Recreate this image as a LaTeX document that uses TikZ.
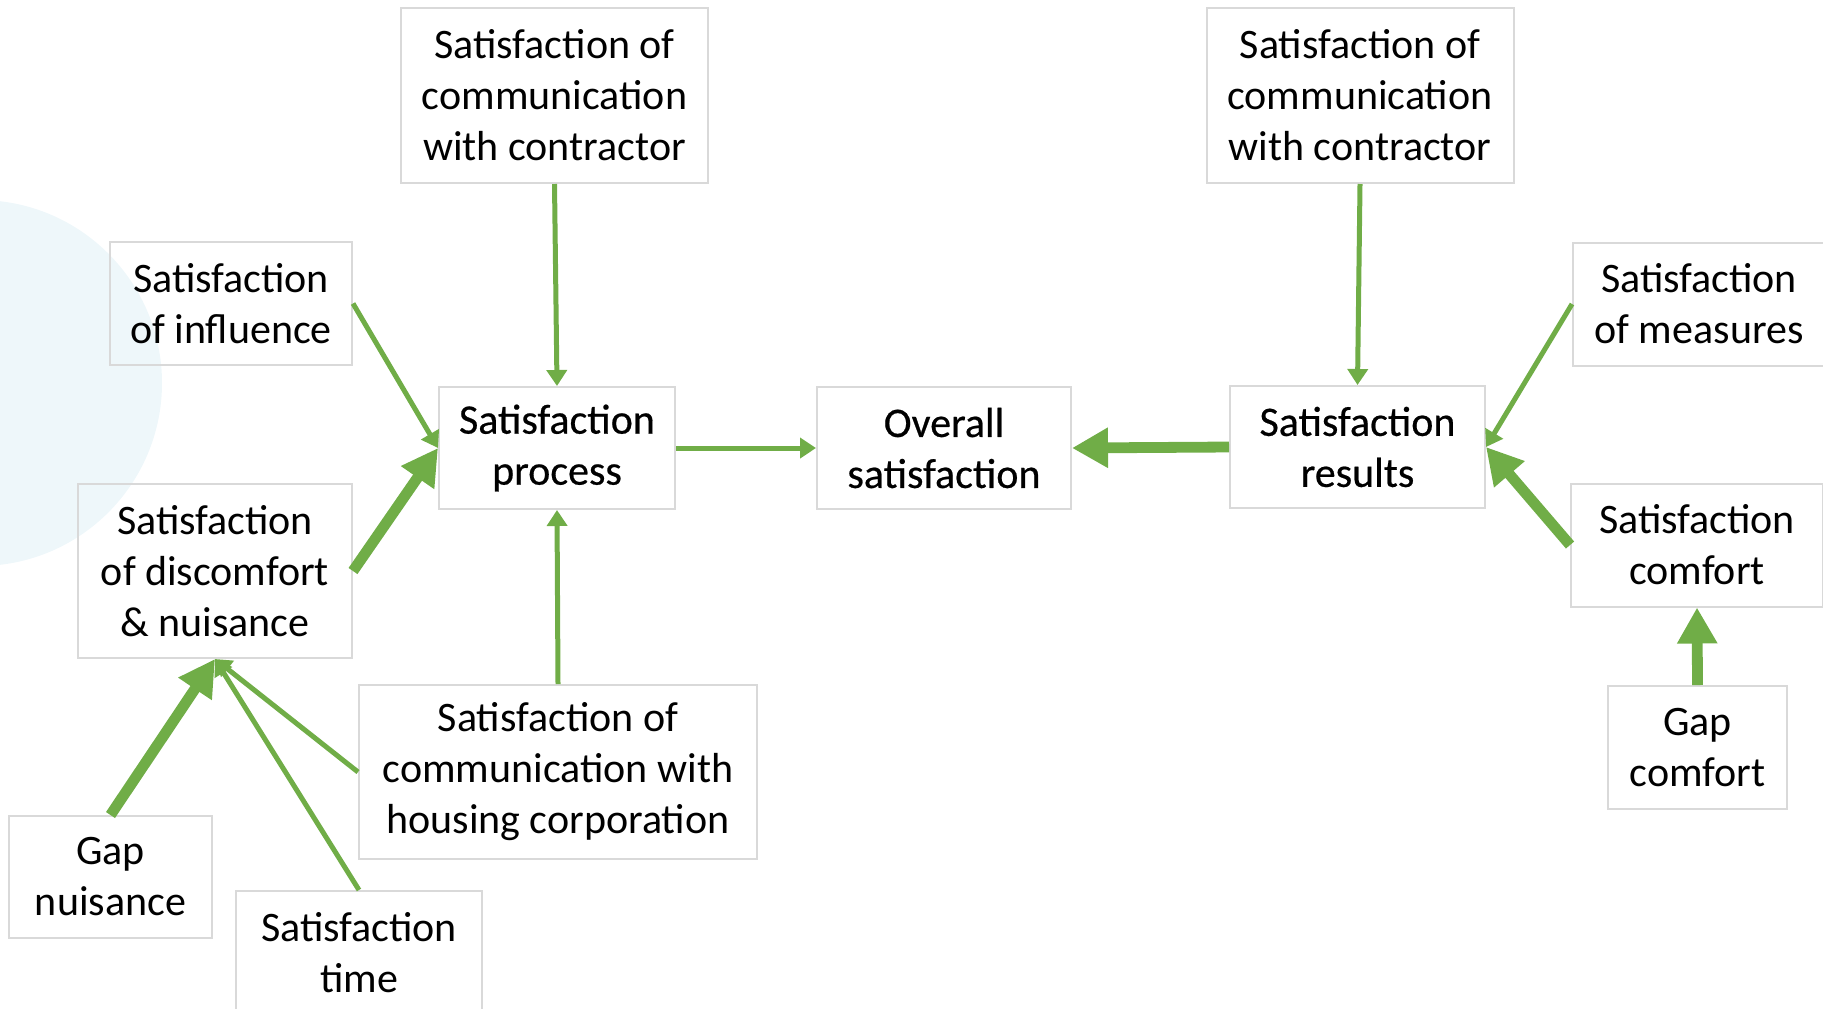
\documentclass[tikz,border=0pt]{standalone}
\usepackage{fontspec}
\setmainfont{Carlito}
\newfontfamily\midfont[FakeBold=0.5]{Carlito}
\usepackage{xcolor}
\usepackage{tikz}
\usetikzlibrary{arrows.meta}
\definecolor{arrgreen}{HTML}{70AD47}
\definecolor{boxgray}{HTML}{D9D9D9}
\definecolor{circblue}{HTML}{EEF7FA}
\tikzset{
  box/.style={draw=boxgray, line width=1pt, align=center, inner sep=0pt,
    font=\fontsize{21}{25.5}\selectfont},
  mainbox/.style={box, font=\midfont\fontsize{21}{25.5}\selectfont},
  thinarr/.style={draw=arrgreen, line width=2.5pt, -{Triangle[length=8pt,width=10pt]}},
  thickarr/.style={draw=arrgreen, line width=5.4pt, -{Triangle[length=18pt,width=19pt]}}
}

\begin{document}
\begin{tikzpicture}[x=0.5pt,y=-0.5pt]
             \useasboundingbox (0,0) rectangle (1823,1008);
             \fill[circblue] (-21,383) circle [radius=91.5pt];

             \node[mainbox, minimum width=118pt, minimum height=61pt] (proc) at (557,448) {Satisfaction\\process};
             \node[mainbox, minimum width=127pt, minimum height=61pt] (over) at (944,448) {Overall\\satisfaction};
             \node[mainbox, minimum width=127.5pt, minimum height=61pt] (res) at (1357.5,447) {Satisfaction\\results};

             \node[box, minimum width=153.5pt, minimum height=87.5pt] (scc1) at (554.5,95.5) {Satisfaction of\\communication\\with contractor};
             \node[box, minimum width=153.5pt, minimum height=87.5pt] (scc2) at (1360,95.5) {Satisfaction of\\communication\\with contractor};
             \node[box, minimum width=121pt, minimum height=61.5pt] (infl) at (231,303.5) {Satisfaction\\of influence};
             \node[box, minimum width=137pt, minimum height=87pt] (disc) at (215,571) {Satisfaction\\of discomfort\\\& nuisance};
             \node[box, minimum width=199pt, minimum height=87pt] (house) at (558,772) {Satisfaction of\\communication with\\housing corporation};
             \node[box, minimum width=101.5pt, minimum height=61pt] (gapn) at (110.5,877) {Gap\\nuisance};
             \node[box, minimum width=123pt, minimum height=61.5pt] (time) at (359,952.5) {Satisfaction\\time};
             \node[box, minimum width=126pt, minimum height=61.5pt] (meas) at (1699,304) {Satisfaction\\of measures};
             \node[box, minimum width=126pt, minimum height=61.5pt] (comf) at (1697,545) {Satisfaction\\comfort};
             \node[box, minimum width=89.5pt, minimum height=61.5pt] (gapc) at (1697.5,747.5) {Gap\\comfort};

             \draw[thinarr] (scc1.south) -- (proc.north);
             \draw[thinarr] (house.north) -- (proc.south);
             \draw[thinarr] (infl.east) -- (proc.west);
             \draw[thickarr] (disc.east) -- (proc.west);
             \draw[thinarr] (proc.east) -- (over.west);
             \draw[thickarr] (res.west) -- (over.east);
             \draw[thinarr] (scc2.south) -- (res.north);
             \draw[thinarr] (meas.west) -- (res.east);
             \draw[thickarr] (comf.west) -- (res.east);
             \draw[thickarr] (gapc.north) -- (comf.south);
             \draw[thickarr] (gapn.north) -- (disc.south);
             \draw[thinarr] (time.north) -- (disc.south);
             \draw[thinarr] (house.west) -- (disc.south);
\end{tikzpicture}
\end{document}
